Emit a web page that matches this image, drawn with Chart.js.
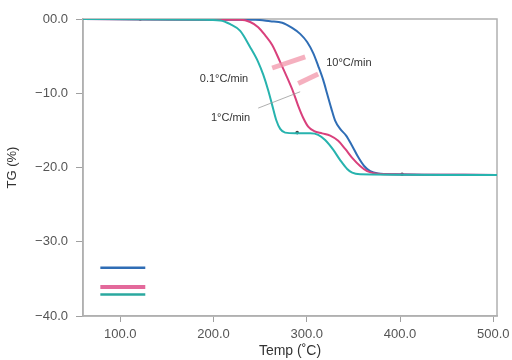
<!DOCTYPE html>
<html><head><meta charset="utf-8">
<script src="https://cdn.jsdelivr.net/npm/chart.js@4/dist/chart.umd.min.js"></script>
<style>html,body{margin:0;padding:0;background:#fff}#w{width:512px;height:360px}</style>
</head><body><div id="w"><canvas id="c" width="512" height="360"></canvas></div>
<script>
// Data (Temp °C, TG %)
const temp10 = [60,185.7,244.7,260.8,273.6,284.3,292.9,300.4,306.9,312.2,317.6,321.9,326.2,330.4,335.8,342.2,348.7,355.1,361.5,368.0,376.5,394.7,504];
const tg10   = [0,-0.1,-0.1,-0.3,-0.5,-1.2,-2.0,-3.1,-4.6,-6.3,-8.2,-10.1,-12.0,-13.7,-14.8,-15.7,-17.1,-18.6,-19.8,-20.5,-20.8,-20.9,-21.0];
const temp01 = [60,185.7,228.6,239.3,247.9,255.4,262.9,271.5,279.0,285.4,290.8,296.1,301.5,307.9,316.5,325.1,333.7,341.2,348.7,357.2,364.7,373.3,389.4,504];
const tg01   = [0,-0.1,-0.1,-0.4,-1.1,-2.2,-3.5,-5.8,-7.9,-9.8,-11.7,-13.3,-14.5,-15.1,-15.4,-15.7,-16.4,-17.5,-18.7,-19.8,-20.5,-20.8,-20.9,-21.0];
const temp1  = [60,185.7,207.2,217.9,228.6,239.3,247.9,253.3,258.6,262.9,267.2,271.5,276.8,287.6,303.6,312.2,319.7,328.3,335.8,343.3,348.7,357.2,504];
const tg1    = [0,-0.1,-0.2,-0.7,-1.6,-3.8,-5.8,-7.5,-9.6,-11.6,-13.6,-14.8,-15.3,-15.4,-15.4,-15.6,-16.3,-17.6,-19.0,-20.2,-20.7,-20.9,-21.0];
const xTicks = [100,200,300,400,500];
const xTickLabels = ['100.0','200.0','300.0','400.0','500.0'];
const yTicks = [0,-10,-20,-30,-40];
const yTickLabels = ['00.0','\u221210.0','\u221220.0','\u221230.0','\u221240.0'];
const seriesNames = ['10\u00B0C/min','0.1\u00B0C/min','1\u00B0C/min'];
// annotation anchors (data coords)
const arrowA = [[262.9,-6.6],[298.3,-5.1]];
const arrowB = [[290.8,-8.7],[312.2,-7.4]];
const leader = [[247.9,-12.0],[292.9,-9.8]];
const labelPos = [[320.8,-5.9,'left'],[237.2,-8.1,'right'],[239.3,-13.3,'right']];
const legendX = [78.6,126.8];
const legendY = [-33.5,-36.1,-37.1];
const markerT = [121.4,289.7,402.2];
const markerTG = [0,-15.3,-20.9];

const BLUE='#2f6db5', MAG='#d9407c', CYAN='#27b3ae';
const FONT='"Liberation Sans", Arial, sans-serif';
const pts=(xs,ys)=>xs.map((x,i)=>({x,y:ys[i]}));
const seg=(a)=>a.map(p=>({x:p[0],y:p[1]}));
const line=(data,color,w,extra)=>Object.assign({data,borderColor:color,borderWidth:w,pointRadius:0,fill:false,showLine:true,cubicInterpolationMode:'monotone'},extra||{});

const decor={id:'decor',
 beforeDatasetsDraw(ch){const a=ch.chartArea,c=ch.ctx;c.save();c.strokeStyle='#b0b0b0';c.lineWidth=1.5;c.strokeRect(a.left,a.top,a.right-a.left,a.bottom-a.top);c.restore();},
 afterDatasetsDraw(ch){const c=ch.ctx,xs=ch.scales.x,ys=ch.scales.y;c.save();c.font='11px '+FONT;c.fillStyle='#333';c.textBaseline='middle';
  labelPos.forEach((p,i)=>{c.textAlign=p[2];c.fillText(seriesNames[i],xs.getPixelForValue(p[0]),ys.getPixelForValue(p[1]));});c.restore();}
};

new Chart(document.getElementById('c'),{
 type:'scatter',
 data:{datasets:[
  line(seg(arrowA),'rgba(242,150,170,0.75)',5,{cubicInterpolationMode:'default'}),
  line(seg(arrowB),'rgba(242,150,170,0.75)',5,{cubicInterpolationMode:'default'}),
  line(seg(leader),'#9a9a9a',0.8,{cubicInterpolationMode:'default'}),
  line(pts(temp1,tg1),CYAN,2),
  line(pts(temp01,tg01),MAG,2),
  line(pts(temp10,tg10),BLUE,2),
  line(pts(legendX,[legendY[0],legendY[0]]),BLUE,2.5),
  line(pts(legendX,[legendY[1],legendY[1]]),'#e3699b',4),
  line(pts(legendX,[legendY[2],legendY[2]]),'#2aa89f',2.5),
  {data:pts(markerT,markerTG),pointRadius:1.8,backgroundColor:'#444',borderWidth:0,showLine:false}
 ]},
 options:{responsive:false,animation:false,devicePixelRatio:1,
  layout:{padding:{top:19,right:15,left:0,bottom:0}},
  plugins:{legend:{display:false},tooltip:{enabled:false}},
  scales:{
   x:{type:'linear',min:60,max:504,
    afterBuildTicks:s=>{s.ticks=xTicks.map(v=>({value:v}));},
    ticks:{callback:(v)=>xTickLabels[xTicks.indexOf(v)],color:'#555',font:{size:13,family:FONT},padding:5,maxRotation:0,autoSkip:false},
    grid:{display:true,drawOnChartArea:false,tickLength:6,color:'#a0a0a0'},
    border:{color:'#b0b0b0',width:1.5},
    title:{display:true,text:'Temp (\u02DAC)',color:'#333',font:{size:14,family:FONT},padding:{top:0,bottom:0}},
    afterFit:s=>{s.height=44;s.paddingLeft=0;s.paddingRight=0;}
   },
   y:{type:'linear',min:-40,max:0,
    afterBuildTicks:s=>{s.ticks=yTicks.map(v=>({value:v}));},
    ticks:{callback:(v)=>yTickLabels[yTicks.indexOf(v)],color:'#555',font:{size:13,family:FONT},padding:8,autoSkip:false},
    grid:{display:true,drawOnChartArea:false,tickLength:7,color:'#a0a0a0'},
    border:{color:'#b0b0b0',width:1.5},
    title:{display:true,text:'TG (%)',color:'#333',font:{size:13,family:FONT},padding:{top:5,bottom:2}},
    afterFit:s=>{s.width=83;s.paddingTop=0;s.paddingBottom=0;}
   }
  }
 },
 plugins:[decor]
});
</script></body></html>
